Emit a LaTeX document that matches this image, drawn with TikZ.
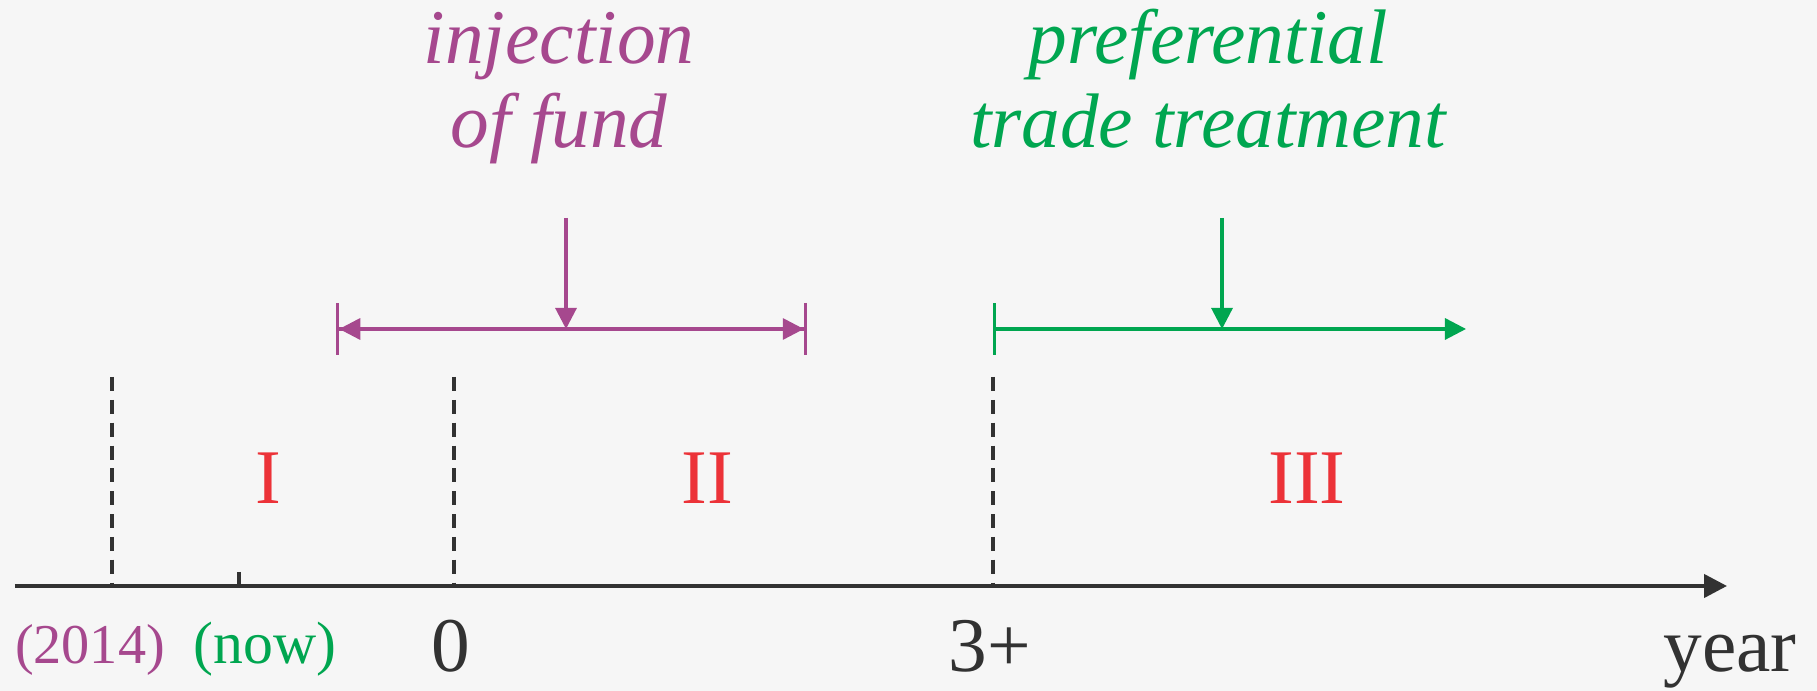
\documentclass[tikz,border=0pt]{standalone}
\usepackage{fontspec}
\setmainfont{Liberation Serif}
\usepackage{xcolor}
\usepackage{tikz}
\usetikzlibrary{arrows.meta,positioning}

\definecolor{fundpurple}{RGB}{166,72,142}
\definecolor{tradegreen}{RGB}{0,166,80}
\definecolor{phasered}{RGB}{236,50,56}
\definecolor{axisgray}{RGB}{50,50,50}
\definecolor{paper}{RGB}{246,246,246}

\begin{document}
\begin{tikzpicture}[
  axis/.style={-{Triangle[length=6.5pt,width=6.5pt]},line width=1.2pt,axisgray},
  marker/.style={dash pattern=on 4pt off 2.5pt,line width=0.9pt,axisgray},
  down/.style={-{Triangle[length=6pt,width=6pt]},line width=0.9pt},
  phase/.style={font=\fontsize{22}{24}\selectfont,text=phasered,anchor=base,inner sep=0pt},
  yearlabel/.style={font=\fontsize{22}{24}\selectfont,text=axisgray,anchor=base,inner sep=0pt},
  datelabel/.style={font=\fontsize{17}{20}\selectfont,anchor=base,inner sep=0pt},
  policy/.style={font=\itshape\fontsize{22}{24}\selectfont,align=center,anchor=base,inner sep=0pt}
]
% Paper
\fill[paper] (0,0) rectangle (18.17,6.91);
\useasboundingbox (0,0) rectangle (18.17,6.91);

% Time axis
\coordinate (axstart) at (0.15,1.05);
\coordinate (axend) at (17.27,1.05);
\draw[axis] (axstart) -- (axend);

% Markers on the axis
\coordinate (m2014) at (1.12,1.05);
\coordinate (m2014top) at (1.12,3.14);
\coordinate (mnow) at (2.39,1.05);
\coordinate (mnowtop) at (2.39,1.19);
\coordinate (mzero) at (4.54,1.05);
\coordinate (mzerotop) at (4.54,3.14);
\coordinate (mthree) at (9.93,1.05);
\coordinate (mthreetop) at (9.93,3.14);
\draw[marker] (m2014top) -- (m2014);
\draw[marker] (mzerotop) -- (mzero);
\draw[marker] (mthreetop) -- (mthree);
\draw[line width=0.9pt,axisgray] (mnowtop) -- (mnow);

% Axis labels
\node[datelabel,text=fundpurple,font=\fontsize{16}{20}\selectfont] (l2014) at (0.90,0.27) {(2014)};
\node[datelabel,text=tradegreen] (lnow) at (2.65,0.27) {(now)};
\node[yearlabel] (lzero) at (4.51,0.19) {0};
\node[yearlabel] (lthree) at (9.90,0.19) {3+};
\node[yearlabel] (lyear) at (17.30,0.19) {year};

% Phases
\node[phase] (ph1) at (2.68,1.87) {I};
\node[phase] (ph2) at (7.07,1.87) {II};
\node[phase] (ph3) at (13.07,1.87) {III};

% Injection of fund
\coordinate (fundL) at (3.36,3.62);
\coordinate (fundR) at (8.07,3.62);
\coordinate (fundM) at (5.66,3.62);
\coordinate (fundtop) at (5.66,4.73);
\draw[fundpurple,line width=0.9pt,
  {Bar[width=14.8pt]Triangle[length=6pt,width=6pt]}-{Triangle[length=6pt,width=6pt]Bar[width=14.8pt]}]
  (fundL) -- (fundR);
\draw[down,fundpurple] (fundtop) -- (fundM);
\node[policy,text=fundpurple] (fund) at (5.59,5.43) {injection\\of fund};

% Preferential trade treatment
\coordinate (tradeL) at (9.93,3.62);
\coordinate (tradeR) at (14.66,3.62);
\coordinate (tradeM) at (12.22,3.62);
\coordinate (tradetop) at (12.22,4.73);
\draw[tradegreen,line width=0.9pt,
  {Bar[width=14.8pt]}-{Triangle[length=6pt,width=6pt]}]
  (tradeL) -- (tradeR);
\draw[down,tradegreen] (tradetop) -- (tradeM);
\node[policy,text=tradegreen] (trade) at (12.08,5.43) {preferential\\trade treatment};
\end{tikzpicture}
\end{document}
